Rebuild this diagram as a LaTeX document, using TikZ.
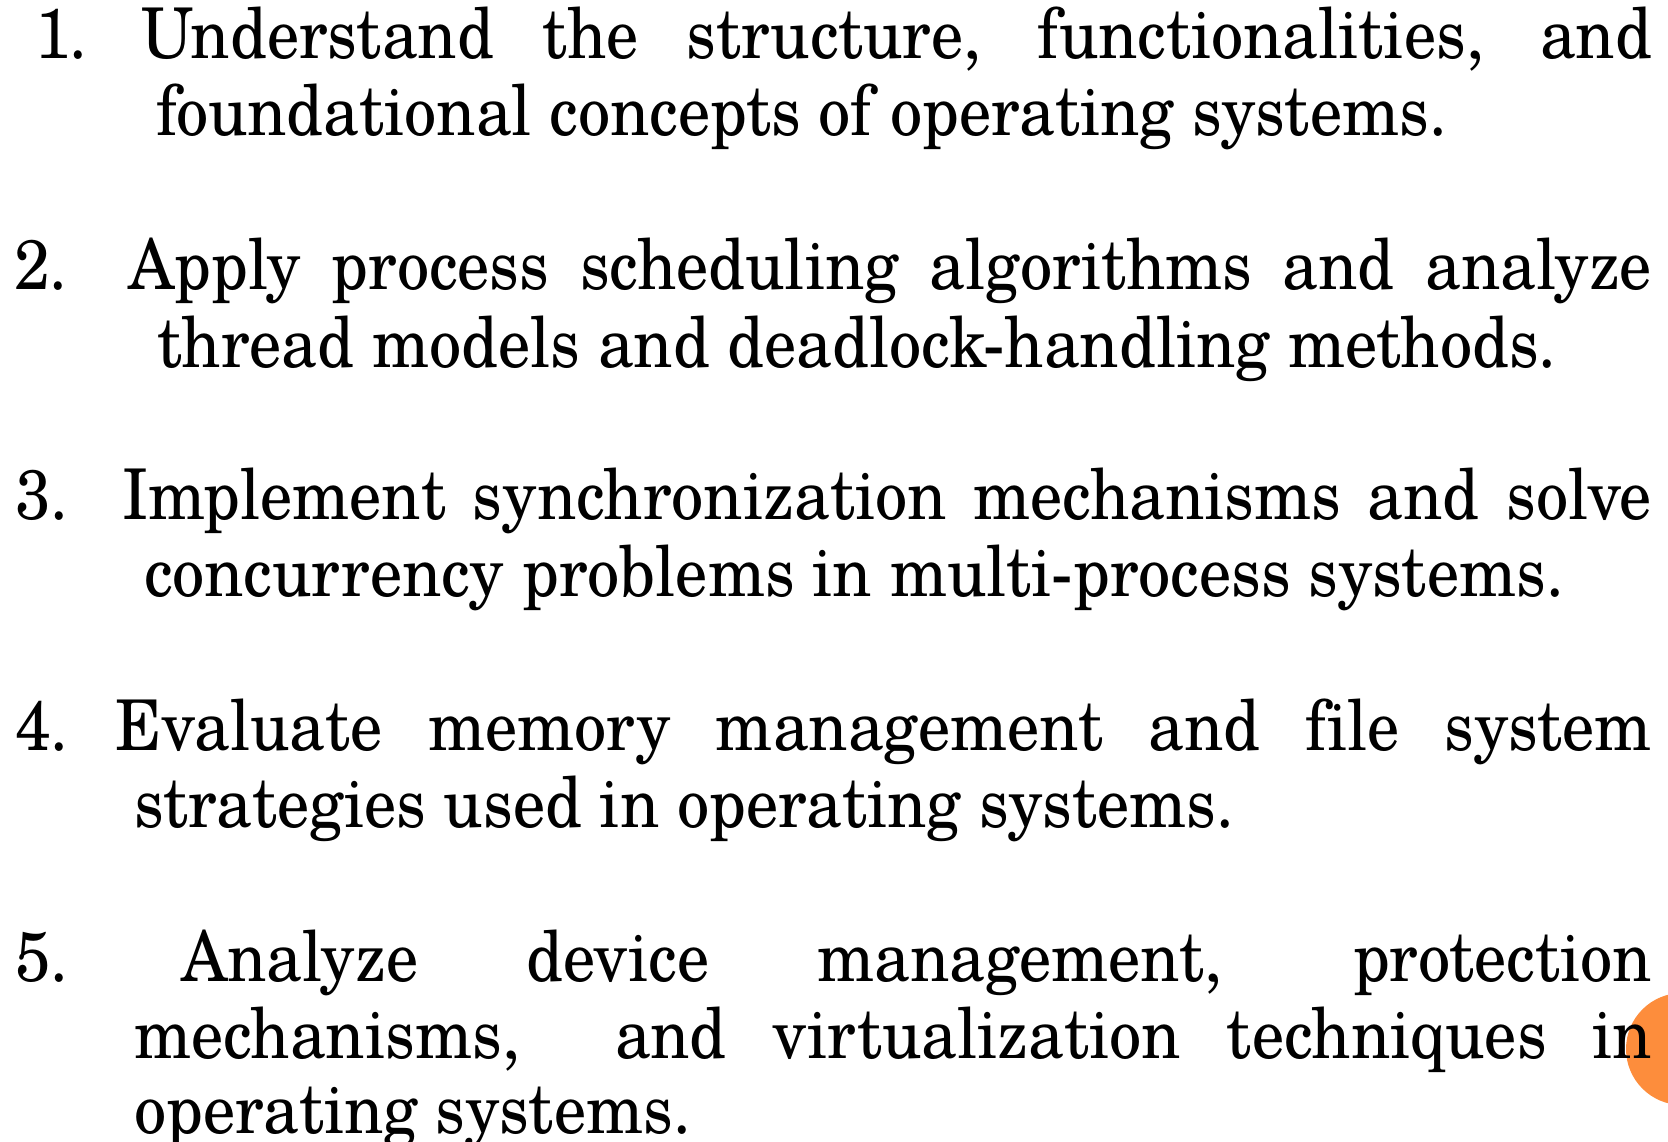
\documentclass[tikz,border=0pt]{standalone}
\usepackage{fontspec}
\setmainfont[FakeStretch=0.918,Ligatures=NoCommon]{TeX Gyre Schola}
\definecolor{dotorange}{RGB}{253,141,60}
\begin{document}
\begin{tikzpicture}[x=1pt,y=-1pt,
  txt/.style={anchor=base west, inner sep=0pt, outer sep=0pt, font=\fontsize{70}{78}\selectfont}]
\useasboundingbox (0,0) rectangle (1668,1142);
\fill[white] (0,0) rectangle (1668,1142);
\fill[dotorange] (1682,1049) circle (56);
% item 1
\node[txt] (n1) at (35,58.5) {1.};
\node[txt] (l11) at (141,58.5) {\makebox[1511pt][s]{Understand the structure, functionalities, and}};
\node[txt] (l12) at (156,136) {foundational concepts of operating systems.};
% item 2
\node[txt] (n2) at (14,289) {2.};
\node[txt] (l21) at (128,289) {\makebox[1524pt][s]{Apply process scheduling algorithms and analyze}};
\node[txt] (l22) at (157,367) {thread models and deadlock-handling methods.};
% item 3
\node[txt] (n3) at (15,519) {3.};
\node[txt] (l31) at (122,519) {\makebox[1530pt][s]{Implement synchronization mechanisms and solve}};
\node[txt] (l32) at (144,596) {concurrency problems in multi-process systems.};
% item 4
\node[txt] (n4) at (15,750) {4.};
\node[txt] (l41) at (115,750) {\makebox[1537pt][s]{Evaluate memory management and file system}};
\node[txt] (l42) at (134,827) {strategies used in operating systems.};
% item 5
\node[txt] (n5) at (15,981) {5.};
\node[txt] (l51) at (181,981) {\makebox[1471pt][s]{Analyze device management, protection}};
\node[txt] (l52a) at (134,1058) {mechanisms,};
\node[txt] (l52b) at (615,1058) {\makebox[1037pt][s]{and virtualization techniques in}};
\node[txt] (l53) at (134,1133) {operating systems.};
\end{tikzpicture}
\end{document}
